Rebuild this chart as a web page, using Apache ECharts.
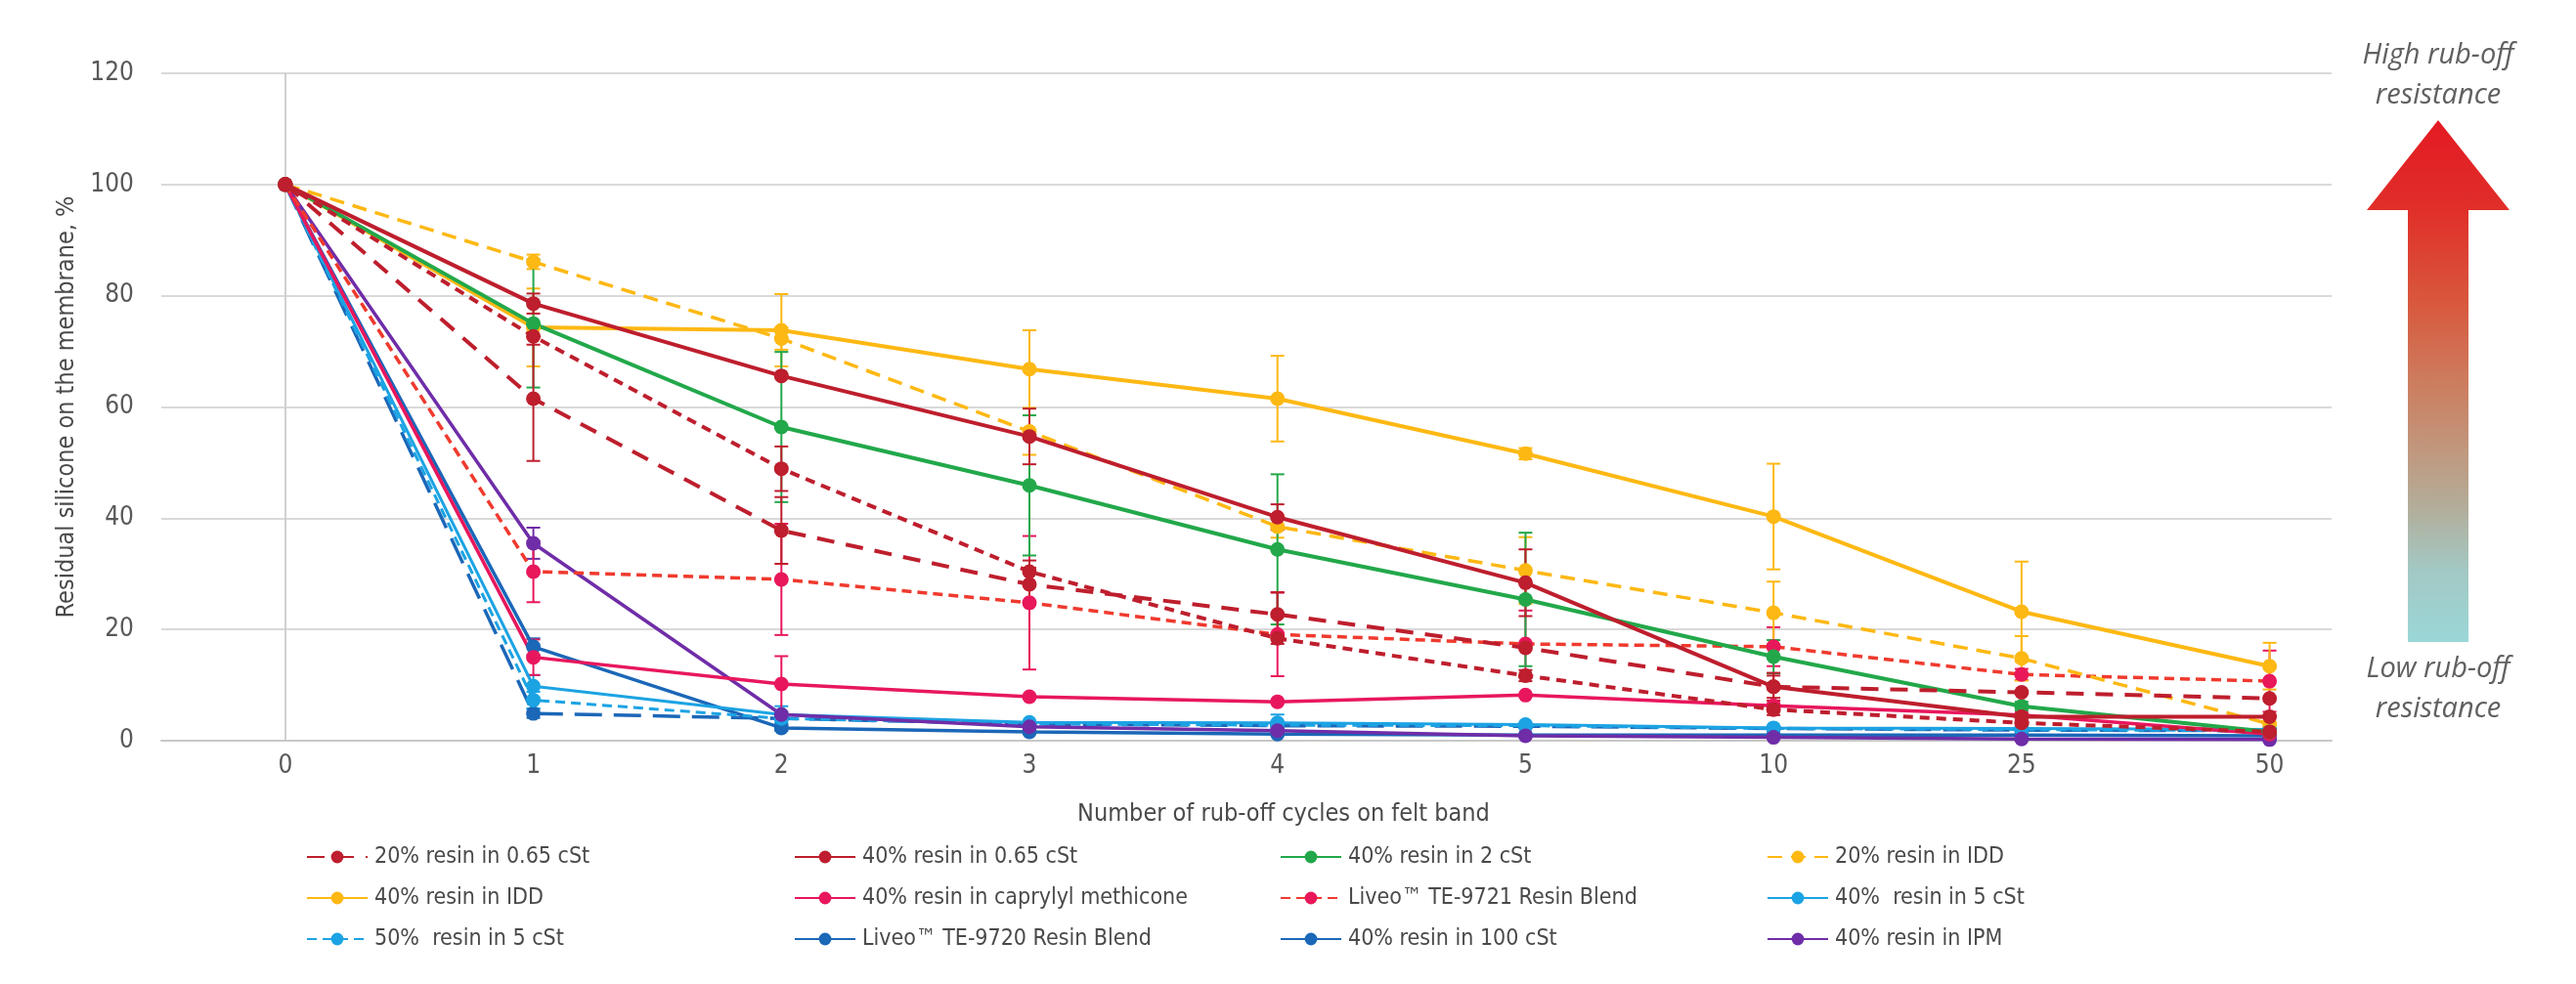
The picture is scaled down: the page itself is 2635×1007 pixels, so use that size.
<!DOCTYPE html>
<html>
<head>
<meta charset="utf-8">
<script src="https://cdn.jsdelivr.net/npm/echarts@6/dist/echarts.min.js"></script>
<style>
  html, body { margin: 0; padding: 0; background: #ffffff; }
  #chart { width: 2635px; height: 1007px; }
</style>
</head>
<body>
<div id="chart"></div>
<script>
// ---- DATA ----
const cycleLabels = ['0', '1', '2', '3', '4', '5', '10', '25', '50'];
const cycleIdx = [0, 1, 2, 3, 4, 5, 6, 7, 8];
const yTicks = [0, 20, 40, 60, 80, 100, 120];

const v_te9720      = [100, 4.9, 4.0, 3.0, 2.7, 2.6, 2.2, 1.9, 1.8];
const e_te9720      = [0, 0.8, 1.0, 0, 0, 0, 0, 0, 0];
const v_100cst      = [100, 16.9, 2.3, 1.6, 1.2, 1.0, 1.0, 1.0, 0.9];
const e_100cst      = [0, 1.5, 0.5, 0, 0, 0, 0, 0, 0];
const v_40_5cst     = [100, 9.8, 4.7, 3.3, 3.2, 2.9, 2.3, 2.2, 2.0];
const e_40_5cst     = [0, 2.0, 1.5, 0, 1.5, 0, 0, 0, 0];
const v_50_5cst     = [100, 7.3, 4.0, 3.0, 2.8, 2.7, 2.2, 2.0, 1.8];
const e_50_5cst     = [0, 1.5, 0, 0, 0, 0, 0, 0, 0];
const v_ipm         = [100, 35.5, 4.7, 2.5, 1.8, 0.9, 0.6, 0.3, 0.2];
const e_ipm         = [0, 2.8, 0, 0, 0, 0, 0, 0, 0];
const v_caprylyl    = [100, 15.0, 10.2, 7.9, 7.0, 8.2, 6.3, 4.6, 1.2];
const e_caprylyl    = [0, 3.2, 5.0, 0, 0, 0, 0, 0, 0];
const v_te9721      = [100, 30.4, 29.0, 24.8, 19.1, 17.4, 16.9, 11.9, 10.7];
const e_te9721      = [0, 5.5, 10.0, 12.0, 7.5, 6.0, 3.5, 1.0, 5.5];
const v_20idd       = [100, 86.1, 72.3, 55.6, 38.5, 30.6, 23.0, 14.8, 3.0];
const e_20idd       = [0, 1.3, 2.0, 4.2, 2.0, 6.0, 5.6, 4.0, 0];
const v_40idd       = [100, 74.3, 73.8, 66.8, 61.5, 51.6, 40.3, 23.2, 13.4];
const e_40idd       = [0, 7.0, 6.5, 7.0, 7.7, 1.0, 9.5, 9.0, 4.2];
const v_2cst        = [100, 75.0, 56.4, 45.9, 34.4, 25.4, 15.1, 6.2, 1.6];
const e_2cst        = [0, 11.5, 13.5, 12.6, 13.5, 12.0, 3.0, 0.8, 0.5];
const v_20_065      = [100, 61.5, 37.8, 28.1, 22.7, 16.7, 9.7, 8.7, 7.6];
const e_20_065      = [0, 11.2, 6.0, 3.0, 4.0, 0, 2.0, 0, 0];
const v_x_065       = [100, 72.7, 48.9, 30.4, 18.4, 11.7, 5.6, 3.2, 1.6];
const e_x_065       = [0, 1.5, 4.0, 2.0, 1.0, 1.0, 1.0, 0, 0];
const v_40_065      = [100, 78.6, 65.6, 54.7, 40.2, 28.4, 9.7, 4.3, 4.3];
const e_40_065      = [0, 1.8, 0, 5.0, 2.3, 6.0, 2.5, 0, 0];

const legendCols = [
  ['20% resin in 0.65 cSt', '40% resin in IDD', '50%  resin in 5 cSt'],
  ['40% resin in 0.65 cSt', '40% resin in caprylyl methicone', 'Liveo™ TE-9720 Resin Blend'],
  ['40% resin in 2 cSt', 'Liveo™ TE-9721 Resin Blend', '40% resin in 100 cSt'],
  ['20% resin in IDD', '40%  resin in 5 cSt', '40% resin in IPM']
];

// ---- STYLE ----
const C = {
  darkRed: '#BE1E2D', red: '#F03A2E', redMark: '#E8185A', green: '#22A84A',
  yellow: '#FDB813', pink: '#E8175D', lightBlue: '#1CA3E3', blue: '#1B67B8', purple: '#6F2DA8'
};
const FONT = "'Liberation Sans Narrow', 'DejaVu Sans Condensed', 'Roboto Condensed', Roboto, sans-serif";

const defs = [
  { name: 'Liveo™ TE-9720 Resin Blend', v: v_te9720, e: e_te9720, color: C.blue, mark: C.blue, type: [28, 12], w: 3.5 },
  { name: '40% resin in 100 cSt', v: v_100cst, e: e_100cst, color: C.blue, mark: C.blue, type: 'solid', w: 3.5 },
  { name: '40%  resin in 5 cSt', v: v_40_5cst, e: e_40_5cst, color: C.lightBlue, mark: C.lightBlue, type: 'solid', w: 3 },
  { name: '50%  resin in 5 cSt', v: v_50_5cst, e: e_50_5cst, color: C.lightBlue, mark: C.lightBlue, type: [10, 6], w: 3 },
  { name: '40% resin in IPM', v: v_ipm, e: e_ipm, color: C.purple, mark: C.purple, type: 'solid', w: 3.5 },
  { name: '40% resin in caprylyl methicone', v: v_caprylyl, e: e_caprylyl, color: C.pink, mark: C.pink, type: 'solid', w: 3.5 },
  { name: 'Liveo™ TE-9721 Resin Blend', v: v_te9721, e: e_te9721, color: C.red, mark: C.redMark, type: [10, 6], w: 3.5 },
  { name: '20% resin in IDD', v: v_20idd, e: e_20idd, color: C.yellow, mark: C.yellow, type: [15, 9], w: 3.5 },
  { name: '40% resin in IDD', v: v_40idd, e: e_40idd, color: C.yellow, mark: C.yellow, type: 'solid', w: 4 },
  { name: '40% resin in 2 cSt', v: v_2cst, e: e_2cst, color: C.green, mark: C.green, type: 'solid', w: 4 },
  { name: '20% resin in 0.65 cSt', v: v_20_065, e: e_20_065, color: C.darkRed, mark: C.darkRed, type: [18, 12], w: 4 },
  { name: 'resin in 0.65 cSt (unlabelled)', v: v_x_065, e: e_x_065, color: C.darkRed, mark: C.darkRed, type: [10, 7], w: 4 },
  { name: '40% resin in 0.65 cSt', v: v_40_065, e: e_40_065, color: C.darkRed, mark: C.darkRed, type: 'solid', w: 4 }
];

const series = [];
defs.forEach(function (d) {
  const col = d.color;
  const errData = [];
  d.e.forEach(function (err, i) {
    if (err > 0) errData.push([cycleIdx[i], Math.max(0, d.v[i] - err), d.v[i] + err]);
  });
  series.push({
    type: 'custom', name: d.name + ' error', coordinateSystem: 'cartesian2d',
    silent: true, z: 2, data: errData, encode: { x: 0, y: [1, 2] },
    renderItem: function (params, api) {
      const x = api.value(0), lo = api.value(1), hi = api.value(2);
      const p1 = api.coord([x, hi]), p2 = api.coord([x, lo]);
      const w = 7;
      const st = { stroke: d.mark, lineWidth: 2, fill: null };
      return { type: 'group', children: [
        { type: 'line', shape: { x1: p1[0], y1: p1[1], x2: p2[0], y2: p2[1] }, style: st },
        { type: 'line', shape: { x1: p1[0] - w, y1: p1[1], x2: p1[0] + w, y2: p1[1] }, style: st },
        { type: 'line', shape: { x1: p2[0] - w, y1: p2[1], x2: p2[0] + w, y2: p2[1] }, style: st }
      ] };
    }
  });
  series.push({
    type: 'line', name: d.name, z: 3,
    data: cycleIdx.map(function (x, i) { return [x, d.v[i]]; }),
    symbol: 'circle', symbolSize: 15, showSymbol: true,
    lineStyle: { color: col, width: d.w, type: d.type },
    itemStyle: { color: d.mark, borderWidth: 0 },
    emphasis: { disabled: true }, animation: false
  });
});

const legendLeft = [313, 812, 1309, 1807];
const legends = legendCols.map(function (names, ci) {
  return {
    orient: 'vertical', left: legendLeft[ci], top: 862,
    itemWidth: 62, itemHeight: 16, itemGap: 12, padding: 0,
    selectedMode: false,
    data: names.map(function (n) {
      return n === 'Liveo™ TE-9720 Resin Blend' ? { name: n, lineStyle: { type: 'solid' } } : { name: n };
    }),
    textStyle: { fontFamily: FONT, fontSize: 23, color: '#4A4A4A', lineHeight: 30, padding: [0, 0, 0, 2] }
  };
});

// arrow geometry (decoration)
const ax = 2494, tipY = 123, headY = 215, baseY = 657, headHalf = 73, shaftHalf = 31;

const option = {
  animation: false,
  backgroundColor: '#ffffff',
  grid: { left: 165, right: 250, top: 75, bottom: 249, containLabel: false },
  title: {
    text: 'Number of rub-off cycles on felt band', left: 1308, top: 816, textAlign: 'center',
    textStyle: { fontFamily: FONT, fontSize: 25, fontWeight: 'normal', color: '#4A4A4A' }
  },
  legend: legends,
  xAxis: {
    type: 'value', min: -0.5, max: 8.25,
    axisLine: { show: true, lineStyle: { color: '#C8C8C8', width: 2 } },
    axisTick: { show: false },
    splitLine: { show: false },
    axisLabel: {
      customValues: cycleIdx,
      formatter: function (val) { return cycleLabels[Math.round(val)]; },
      margin: 13, fontFamily: FONT, fontSize: 26, color: '#595959'
    }
  },
  yAxis: {
    type: 'value', min: 0, max: 120, interval: 20,
    name: 'Residual silicone on the membrane, %', nameLocation: 'middle', nameGap: 84,
    nameTextStyle: { fontFamily: FONT, fontSize: 25, color: '#4A4A4A' },
    axisLine: { show: true, lineStyle: { color: '#D0D0D0', width: 2 } },
    axisTick: { show: false },
    splitLine: { show: true, lineStyle: { color: '#D9D9D9', width: 2 } },
    axisLabel: {
      margin: 28, fontFamily: FONT, fontSize: 26, color: '#595959',
      formatter: function (val) { return yTicks.indexOf(val) >= 0 ? String(val) : ''; }
    }
  },
  graphic: [
    {
      type: 'polygon', z: 1,
      shape: { points: [[ax, tipY], [ax + headHalf, headY], [ax + shaftHalf, headY], [ax + shaftHalf, baseY],
                        [ax - shaftHalf, baseY], [ax - shaftHalf, headY], [ax - headHalf, headY]] },
      style: {
        fill: new echarts.graphic.LinearGradient(0, 0, 0, 1, [
          { offset: 0, color: '#E31A22' },
          { offset: 0.18, color: '#E0302A' },
          { offset: 0.35, color: '#D8583D' },
          { offset: 0.5, color: '#CD7C5E' },
          { offset: 0.62, color: '#C2957A' },
          { offset: 0.74, color: '#B3AD99' },
          { offset: 0.86, color: '#A3C8C3' },
          { offset: 1, color: '#9AD7D8' }
        ])
      }
    },
    { type: 'text', x: ax, y: 36, z: 2,
      style: { text: 'High rub-off\nresistance', fill: '#606060', font: 'italic 29px "Open Sans", sans-serif',
               align: 'center', verticalAlign: 'top', lineHeight: 41 } },
    { type: 'text', x: ax, y: 664, z: 2,
      style: { text: 'Low rub-off\nresistance', fill: '#606060', font: 'italic 29px "Open Sans", sans-serif',
               align: 'center', verticalAlign: 'top', lineHeight: 41 } }
  ],
  series: series
};

const chart = echarts.init(document.getElementById('chart'), null, { renderer: 'canvas' });
chart.setOption(option);
</script>
</body>
</html>
